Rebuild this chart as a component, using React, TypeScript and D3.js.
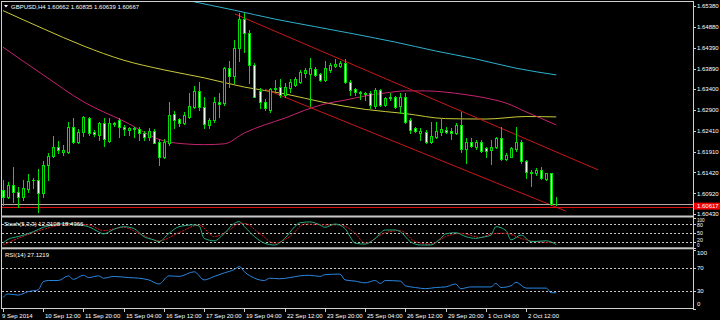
import React from "react";
import * as d3 from "d3";

// ---- price data (H4 candles, GBPUSD) ----
const open = [1.6100,1.6084,1.6112,1.6096,1.6084,1.6103,1.6124,1.6124,1.6092,1.6160,1.6182,1.6202,1.6191,1.6191,1.6251,1.6215,1.6237,1.6272,1.6239,1.6231,1.6260,1.6217,1.6256,1.6267,1.6249,1.6243,1.6245,1.6245,1.6236,1.6227,1.6241,1.6215,1.6179,1.6213,1.6280,1.6268,1.6259,1.6275,1.6298,1.6336,1.6298,1.6255,1.6267,1.6310,1.6307,1.6390,1.6371,1.6438,1.6507,1.6474,1.6398,1.6336,1.6310,1.6291,1.6342,1.6345,1.6326,1.6343,1.6350,1.6358,1.6379,1.6376,1.6388,1.6376,1.6362,1.6386,1.6395,1.6395,1.6403,1.6358,1.6341,1.6334,1.6331,1.6331,1.6299,1.6338,1.6302,1.6318,1.6322,1.6300,1.6322,1.6267,1.6248,1.6235,1.6239,1.6215,1.6227,1.6239,1.6243,1.6241,1.6235,1.6255,1.6197,1.6215,1.6203,1.6215,1.6199,1.6195,1.6202,1.6223,1.6173,1.6179,1.6197,1.6215,1.6169,1.6144,1.6140,1.6148,1.6126,1.6140,1.60662];
const high = [1.6124,1.6119,1.6155,1.6108,1.6124,1.6138,1.6129,1.6150,1.6169,1.6187,1.6229,1.6217,1.6207,1.6263,1.6271,1.6245,1.6276,1.6275,1.6243,1.6263,1.6271,1.6271,1.6262,1.6271,1.6255,1.6251,1.6251,1.6249,1.6241,1.6247,1.6245,1.6221,1.6221,1.6309,1.6289,1.6271,1.6286,1.6331,1.6348,1.6358,1.6322,1.6271,1.6322,1.6331,1.6394,1.6408,1.6457,1.6521,1.6522,1.6481,1.6402,1.6343,1.6316,1.6342,1.6362,1.6364,1.6354,1.6364,1.6370,1.6386,1.6390,1.6414,1.6394,1.6379,1.6406,1.6403,1.6411,1.6406,1.6411,1.6362,1.6344,1.6336,1.6334,1.6336,1.6342,1.6340,1.6321,1.6330,1.6324,1.6330,1.6330,1.6271,1.6251,1.6247,1.6243,1.6263,1.6263,1.6271,1.6251,1.6247,1.6259,1.6286,1.6223,1.6223,1.6219,1.6219,1.6203,1.6219,1.6227,1.6251,1.6187,1.6202,1.6251,1.6219,1.6171,1.6148,1.6152,1.6156,1.6141,1.6141,1.60835];
const low = [1.6064,1.6081,1.6072,1.6060,1.6076,1.6096,1.6104,1.6048,1.6084,1.6124,1.6179,1.6189,1.6183,1.6188,1.6211,1.6213,1.6229,1.6231,1.6229,1.6219,1.6205,1.6215,1.6252,1.6227,1.6231,1.6231,1.6227,1.6219,1.6219,1.6219,1.6211,1.6160,1.6176,1.6207,1.6247,1.6252,1.6257,1.6272,1.6295,1.6291,1.6247,1.6247,1.6263,1.6275,1.6302,1.6346,1.6355,1.6408,1.6429,1.6355,1.6321,1.6295,1.6291,1.6286,1.6334,1.6322,1.6322,1.6334,1.6348,1.6354,1.6370,1.6300,1.6371,1.6360,1.6360,1.6382,1.6394,1.6394,1.6354,1.6326,1.6326,1.6316,1.6314,1.6295,1.6295,1.6300,1.6300,1.6314,1.6295,1.6283,1.6259,1.6235,1.6239,1.6219,1.6213,1.6211,1.6223,1.6231,1.6235,1.6221,1.6233,1.6191,1.6165,1.6202,1.6197,1.6191,1.6179,1.6162,1.6199,1.6171,1.6171,1.6178,1.6194,1.6165,1.6128,1.6110,1.6136,1.6126,1.6124,1.6064,1.60639];
const close = [1.6083,1.6112,1.6096,1.6084,1.6104,1.6122,1.6123,1.6092,1.6160,1.6182,1.6202,1.6195,1.6195,1.6251,1.6215,1.6239,1.6275,1.6236,1.6233,1.6260,1.6221,1.6260,1.6259,1.6249,1.6245,1.6247,1.6247,1.6235,1.6226,1.6241,1.6213,1.6179,1.6215,1.6279,1.6267,1.6259,1.6279,1.6300,1.6336,1.6298,1.6257,1.6267,1.6310,1.6305,1.6390,1.6371,1.6438,1.6507,1.6474,1.6398,1.6322,1.6310,1.6295,1.6340,1.6340,1.6326,1.6345,1.6356,1.6364,1.6382,1.6386,1.6390,1.6374,1.6362,1.6390,1.6398,1.6400,1.6403,1.6358,1.6338,1.6334,1.6332,1.6329,1.6302,1.6338,1.6302,1.6318,1.6322,1.6298,1.6322,1.6263,1.6243,1.6241,1.6241,1.6215,1.6229,1.6241,1.6245,1.6239,1.6235,1.6255,1.6197,1.6215,1.6205,1.6215,1.6194,1.6194,1.6202,1.6223,1.6173,1.6183,1.6199,1.6215,1.6168,1.6144,1.6141,1.6148,1.6128,1.6140,1.6067,1.60667];

// ---- moving averages (bar index, price) ----
const cyanBars = [30,38,46,54,62,70,78,86,94,102,110];
const cyanMA = [1.6567,1.6548,1.6528,1.6507,1.6489,1.6471,1.6452,1.6431,1.6412,1.6390,1.6374];
const yellowBars = [0,8,16,24,32,40,48,56,64,72,80,88,96,104,110];
const yellowMA = [1.6527,1.6484,1.6443,1.6409,1.6386,1.6367,1.6345,1.6329,1.6308,1.6292,1.6282,1.6270,1.6269,1.6275,1.6274];
const magentaBars = [0,8,16,24,32,36,40,44,48,52,56,60,64,68,72,76,80,84,88,92,96,100,104,110];
const magentaMA = [1.6440,1.6374,1.6310,1.6264,1.6217,1.6210,1.6208,1.6210,1.6236,1.6255,1.6271,1.6290,1.6305,1.6314,1.6324,1.6331,1.6336,1.6336,1.6333,1.6327,1.6319,1.6307,1.6286,1.6255];

// ---- channel trend lines ----
const upperTrendBars = [46.1, 118.3];
const upperTrendPrice = [1.6519, 1.6148];
const lowerTrendBars = [52.1, 111.9];
const lowerTrendPrice = [1.6340, 1.6050];

const bidPrice = 1.60667;
const markPrice = 1.60617;

// ---- Stochastic (5,3,3) ----
const stochMainBars = [0,1,3,6,8,10,13,15,17,19,20,22,24,26,28,30,31,33,35,38,39,40,42,44,46,47,48,50,52,54,56,58,59,61,63,64,66,68,69,70,72,74,76,78,79,81,83,85,87,88,90,92,94,95,97,98,100,101,103,105,108,110];
const stochMain = [17,30,39,55,70,78,83,78,72,55,48,63,72,66,39,28,22,50,72,78,74,33,25,50,83,89,72,39,17,11,33,72,85,88,78,70,81,66,39,17,14,33,61,61,55,22,11,11,33,48,52,39,33,36,44,72,59,28,44,22,25,12.31];
const stochSignalBars = [0,3,8,13,17,20,24,27,31,35,39,42,45,47,48,51,54,57,60,64,67,70,72,76,79,82,85,88,91,95,97,100,103,106,110];
const stochSignal = [11,33,63,81,78,59,70,50,25,52,78,39,61,83,83,50,17,39,81,78,78,50,17,52,59,22,14,39,50,36,48,50,33,22,18.44];

// ---- RSI (14) ----
const rsiBars = [0,1,3,5,7,8,9,11,13,14,16,17,19,20,22,25,27,29,31,33,35,38,40,42,44,46,47,48,50,52,53,55,57,59,61,63,64,67,68,70,72,74,75,76,79,80,82,84,86,88,90,91,93,95,97,98,99,101,102,104,106,108,109,110];
const rsiValues = [19,25,23,29,32,46,48,48,56,50,57,53,56,52,55,53,52,49,42,56,55,63,49,55,61,67,72,63,52,48,52,51,53,56,57,55,58,59,49,47,44,48,43,48,47,39,36,34,36,37,42,34,37,37,37,43,36,39,45,35,35,35,27,27.12];

// ---- axis labels ----
const priceTicks = [1.65380,1.64880,1.64390,1.63890,1.63400,1.62900,1.62410,1.61910,1.61420,1.60920,1.60430];
const timeTickBars = [0,8,16,24,32,40,48,56,64,72,80,88,96,104];
const timeLabels = ["9 Sep 2014","10 Sep 12:00","11 Sep 20:00","15 Sep 04:00","16 Sep 12:00","17 Sep 20:00","19 Sep 04:00","22 Sep 12:00","23 Sep 20:00","25 Sep 04:00","26 Sep 12:00","29 Sep 20:00","1 Oct 04:00","2 Oct 12:00"];
const stochLevels = [80, 50, 20];
const stochAxisLabels = [100, 80, 50, 20, 0];
const rsiLevels = [70, 30];
const rsiAxisLabels = [100, 70, 30, 0];

const W = 720, H = 320;
const RIGHT = 693;
const FONT = "'Liberation Sans', Arial, sans-serif";
const LIME = "#00e000";

// baseline of the small stochastic axis labels (kept apart so they do not collide)
const stochLabelBaseline: Record<number, number> = { 100: 221.6, 80: 227.4, 50: 235.4, 20: 241.6, 0: 247.2 };

export default function App() {
  const x = d3.scaleLinear().domain([0, 110]).range([3, 556.3]);
  const yP = d3.scaleLinear().domain([1.6043, 1.6538]).range([214, 6]);
  const yS = d3.scaleLinear().domain([0, 100]).range([248.3, 218.3]);
  const yR = d3.scaleLinear().domain([0, 100]).range([308.5, 250.2]);

  const maLine = (bars: number[], vals: number[]) =>
    d3.line<number>().x((_, i) => x(bars[i])).y((v) => yP(v)).curve(d3.curveMonotoneX)(vals) || "";
  const indLine = (bars: number[], vals: number[], ys: d3.ScaleLinear<number, number>) =>
    d3.line<number>().x((_, i) => x(bars[i])).y((v) => ys(v)).curve(d3.curveMonotoneX)(vals) || "";

  const cx = (i: number) => Math.round(x(i));

  return (
    <svg width={W} height={H} style={{ position: "fixed", left: 0, top: 0, background: "#000", display: "block" }}
      fontFamily={FONT}>
      <defs>
        <clipPath id="cMain"><rect x={2} y={2} width={RIGHT - 2} height={213.5} /></clipPath>
        <clipPath id="cStoch"><rect x={2} y={217.5} width={RIGHT - 2} height={29.5} /></clipPath>
        <clipPath id="cRsi"><rect x={2} y={249.2} width={RIGHT - 2} height={58.8} /></clipPath>
      </defs>
      <rect x={0} y={0} width={W} height={H} fill="#000" />

      {/* main panel */}
      <g clipPath="url(#cMain)">
        <path d={maLine(cyanBars, cyanMA)} fill="none" stroke="#2fb0cf" strokeWidth={1} />
        <path d={maLine(yellowBars, yellowMA)} fill="none" stroke="#c9c93a" strokeWidth={1} />
        <path d={maLine(magentaBars, magentaMA)} fill="none" stroke="#c4246e" strokeWidth={1} />
        <line x1={x(upperTrendBars[0])} y1={yP(upperTrendPrice[0])} x2={x(upperTrendBars[1])} y2={yP(upperTrendPrice[1])} stroke="#c81818" strokeWidth={1} />
        <line x1={x(lowerTrendBars[0])} y1={yP(lowerTrendPrice[0])} x2={x(lowerTrendBars[1])} y2={yP(lowerTrendPrice[1])} stroke="#c81818" strokeWidth={1} />
        <line x1={2} x2={RIGHT} y1={Math.round(yP(bidPrice)) + 0.5} y2={Math.round(yP(bidPrice)) + 0.5} stroke="#b8a8a8" strokeWidth={1} />
        <line x1={2} x2={RIGHT} y1={Math.round(yP(markPrice)) + 1.5} y2={Math.round(yP(markPrice)) + 1.5} stroke="#e01010" strokeWidth={1} />
        {open.map((o, i) => {
          const c = close[i];
          const px = cx(i);
          const top = Math.round(yP(Math.max(o, c)));
          const bot = Math.round(yP(Math.min(o, c)));
          const bull = c >= o;
          return (
            <g key={i}>
              <line x1={px + 0.5} x2={px + 0.5} y1={Math.round(yP(high[i]))} y2={Math.round(yP(low[i])) + 1} stroke={LIME} strokeWidth={1} />
              <rect x={px - 0.5} y={top + 0.5} width={2} height={Math.max(bot - top, 0.01)}
                fill={bull ? "#000" : "#eaffea"} stroke={LIME} strokeWidth={1} />
            </g>
          );
        })}
      </g>

      {/* header */}
      <path d="M4,5 L8,5 L6,7.5 Z" fill="#fff" />
      <text x={11} y={8.5} fontSize={6} fill="#fff">GBPUSD,H4  1.60662 1.60835 1.60639 1.60667</text>

      {/* stoch panel */}
      <g clipPath="url(#cStoch)">
        {stochLevels.map((l) => (
          <line key={l} x1={2} x2={RIGHT} y1={Math.round(yS(l)) + 0.5} y2={Math.round(yS(l)) + 0.5} stroke="#c8c8c8" strokeWidth={1} strokeDasharray="2,2" />
        ))}
        <path d={indLine(stochSignalBars, stochSignal, yS)} fill="none" stroke="#d01818" strokeWidth={1} strokeDasharray="2,1" />
        <path d={indLine(stochMainBars, stochMain, yS)} fill="none" stroke="#26a880" strokeWidth={1} />
      </g>
      <text x={4} y={225.5} fontSize={6} fill="#fff">Stoch(5,3,3) 12.3108 18.4366</text>

      {/* rsi panel */}
      <g clipPath="url(#cRsi)">
        {rsiLevels.map((l) => (
          <line key={l} x1={2} x2={RIGHT} y1={Math.round(yR(l)) + 0.5} y2={Math.round(yR(l)) + 0.5} stroke="#c8c8c8" strokeWidth={1} strokeDasharray="2,2" />
        ))}
        <path d={indLine(rsiBars, rsiValues, yR)} fill="none" stroke="#2a86e0" strokeWidth={1} />
      </g>
      <text x={5} y={257} fontSize={6} fill="#fff">RSI(14) 27.1219</text>

      {/* frames */}
      <line x1={1} x2={RIGHT + 0.5} y1={1.5} y2={1.5} stroke="#d0d0d0" />
      <line x1={1.5} x2={1.5} y1={1} y2={308.5} stroke="#d0d0d0" />
      <line x1={RIGHT + 0.5} x2={RIGHT + 0.5} y1={1} y2={309} stroke="#d0d0d0" />
      <rect x={1} y={215.5} width={RIGHT} height={2} fill="#c8c8c8" />
      <rect x={1} y={247.3} width={RIGHT} height={2} fill="#c8c8c8" />
      <line x1={1} x2={RIGHT + 0.5} y1={308.5} y2={308.5} stroke="#d0d0d0" />

      {/* price axis */}
      {priceTicks.map((p) => (
        <g key={p}>
          <line x1={RIGHT} x2={RIGHT + 3} y1={Math.round(yP(p)) + 0.5} y2={Math.round(yP(p)) + 0.5} stroke="#d0d0d0" />
          <text x={697} y={yP(p) + 2.2} fontSize={6} fill="#fff">{p.toFixed(5)}</text>
        </g>
      ))}
      <rect x={694} y={yP(markPrice) - 3.5} width={26} height={7} fill="#f00000" />
      <text x={697} y={yP(markPrice) + 2.2} fontSize={6} fill="#fff">{markPrice.toFixed(5)}</text>

      {/* stoch axis */}
      {stochAxisLabels.map((l) => (
        <g key={l}>
          <line x1={RIGHT} x2={RIGHT + 3} y1={Math.round(yS(l)) + 0.5} y2={Math.round(yS(l)) + 0.5} stroke="#d0d0d0" />
          <text x={697} y={stochLabelBaseline[l]} fontSize={l === 100 || l === 0 ? 4.6 : 5.2} fill="#fff">{l}</text>
        </g>
      ))}

      {/* rsi axis */}
      {rsiAxisLabels.map((l) => {
        const yy = l === 100 ? 253 : l === 0 ? 304 : yR(l);
        return (
          <g key={l}>
            <line x1={RIGHT} x2={RIGHT + 3} y1={Math.round(yR(l)) + 0.5} y2={Math.round(yR(l)) + 0.5} stroke="#d0d0d0" />
            <text x={697} y={yy + 2.2} fontSize={6} fill="#fff">{l}</text>
          </g>
        );
      })}

      {/* time axis */}
      {timeTickBars.map((b, i) => (
        <g key={b}>
          <line x1={cx(b) + 0.5} x2={cx(b) + 0.5} y1={308.5} y2={312} stroke="#d0d0d0" />
          <text x={i === 0 ? 2 : cx(b) + 2} y={317.5} fontSize={6} fill="#fff">{timeLabels[i]}</text>
        </g>
      ))}
    </svg>
  );
}
